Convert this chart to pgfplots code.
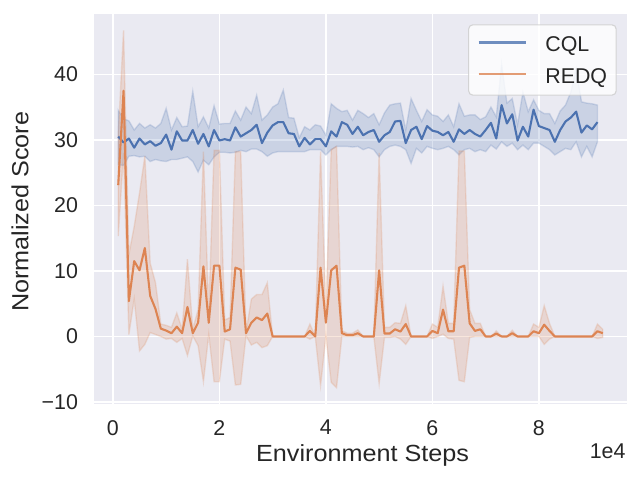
\documentclass[border=0pt]{standalone}
\usepackage{fontspec}
\setmainfont{Liberation Sans}
\usepackage{graphicx}
\usepackage{pgfplots}
\usepgfplotslibrary{fillbetween}
\pgfplotsset{compat=1.18}
\usepackage{pgfplotstable}
\definecolor{cqlc}{HTML}{4C72B0}
\definecolor{redqc}{HTML}{DD8452}
\definecolor{bgc}{HTML}{EAEAF2}
\definecolor{txt}{HTML}{262626}
\definecolor{legc}{HTML}{CCCCCC}

\pgfplotstableread{
x m l u
1000 30.5 26.2 34.5
2000 29.6 26.1 33.2
3000 30.2 27.5 32.9
4000 28.8 27.6 31.5
5000 30.2 27.4 32.5
6000 29.3 27.5 31.8
7000 29.8 26.7 32.3
8000 29.1 27.0 31.8
9000 29.5 26.8 32.5
10000 30.8 26.7 34.8
11000 28.5 27.0 31.5
12000 31.3 27.0 33.4
13000 29.9 27.2 32.0
14000 29.9 27.4 32.1
15000 31.5 26.7 37.4
16000 29.4 25.1 32.0
17000 30.9 26.9 33.5
18000 29.0 26.2 31.8
19000 31.5 27.4 35.2
20000 29.9 28.1 32.4
21000 30.1 28.1 32.5
22000 29.9 28.0 32.5
23000 31.9 28.1 34.4
24000 30.5 28.4 33.0
25000 31.0 28.2 35.0
26000 31.5 28.6 34.0
27000 32.3 28.6 36.8
28000 29.5 28.2 33.0
29000 31.1 27.5 33.8
30000 32.2 28.0 35.0
31000 32.7 28.2 35.5
32000 32.7 28.2 37.6
33000 31.0 28.2 33.4
34000 30.9 28.2 33.3
35000 29.0 28.2 30.3
36000 30.3 28.2 32.0
37000 29.3 28.5 31.5
38000 30.1 28.5 32.3
39000 30.1 28.5 32.1
40000 29.0 27.7 30.7
41000 31.3 28.5 35.5
42000 30.5 29.0 34.8
43000 32.7 29.0 34.3
44000 32.3 29.0 34.5
45000 30.9 28.9 33.0
46000 32.0 29.0 34.5
47000 30.7 28.5 34.0
48000 31.2 28.8 33.4
49000 31.5 28.5 34.0
50000 29.7 27.4 32.3
51000 30.7 28.5 34.1
52000 31.2 29.0 35.3
53000 32.8 29.2 35.5
54000 32.9 29.0 35.6
55000 29.5 28.5 31.5
56000 31.5 26.4 36.3
57000 32.0 28.7 34.5
58000 30.1 28.0 32.8
59000 32.1 29.0 34.6
60000 31.4 28.7 33.8
61000 31.2 28.5 33.6
62000 30.7 28.7 32.8
63000 31.2 29.0 33.8
64000 29.7 28.5 32.0
65000 31.6 27.7 35.5
66000 30.9 28.5 33.6
67000 31.5 28.7 33.8
68000 30.9 28.2 33.8
69000 30.5 28.5 33.1
70000 31.5 28.2 33.5
71000 32.6 29.2 35.0
72000 30.2 28.6 33.5
73000 35.3 29.7 41.6
74000 32.5 29.0 35.6
75000 33.9 29.5 36.3
76000 29.9 28.5 32.3
77000 32.0 29.2 37.3
78000 30.5 28.5 34.3
79000 34.6 29.5 36.1
80000 32.1 29.5 34.5
81000 31.8 29.0 34.0
82000 31.5 28.5 34.0
83000 29.7 27.7 32.5
84000 31.5 28.2 34.4
85000 32.8 28.7 35.3
86000 33.4 28.5 37.3
87000 34.3 29.7 40.9
88000 31.1 27.4 35.8
89000 32.2 29.0 35.6
90000 31.6 27.4 35.5
91000 32.7 29.7 35.3
}\cql

\pgfplotstableread{
x m l u
1000 23.1 15.3 30.7
2000 37.5 28.0 46.7
3000 5.4 0.3 12.5
4000 11.5 5.7 16.8
5000 10.1 -2.2 21.9
6000 13.5 -1.2 27.5
7000 6.2 0.6 11.2
8000 4.2 0.3 8.2
9000 1.2 0.0 1.9
10000 0.9 -0.4 1.7
11000 0.5 -0.3 1.4
12000 1.5 -0.9 3.6
13000 0.5 -0.3 1.1
14000 4.5 -2.9 11.8
15000 0.5 0.1 1.1
16000 2.1 -1.4 4.1
17000 10.7 -6.9 28.2
18000 2.1 0.3 3.6
19000 10.8 -6.9 28.4
20000 10.8 -6.9 28.4
21000 0.75 -0.4 2.5
22000 1.1 -0.7 2.9
23000 10.5 -7.4 28.2
24000 10.2 -7.3 28.2
25000 0.5 0.1 0.6
26000 2.1 -1.3 5.7
27000 2.9 -0.9 6.4
28000 2.5 -1.7 6.4
29000 3.5 -1.4 8.2
30000 0 0 0
31000 0 0 0
32000 0 0 0
33000 0 0 0
34000 0 0 0
35000 0 0 0
36000 0 0 0
37000 0.85 -0.4 1.9
38000 0 0 0
39000 10.5 -7.5 28.2
40000 2.1 0 4.5
41000 10.1 -7.0 28.5
42000 10.8 -7.8 29.0
43000 0.5 0 0.9
44000 0.2 0 0.5
45000 0.2 0 0.5
46000 0.5 0 1.0
47000 0 0 0
48000 0 0 0
49000 0 0 0
50000 10.1 -7.2 28.0
51000 0.45 -0.15 1.4
52000 0.45 -0.15 1.4
53000 1.1 0 2.1
54000 0.75 -0.4 2.0
55000 1.9 -1.2 4.7
56000 0 0 0
57000 0 0 0
58000 0 0 0
59000 0 0 0
60000 0.85 -0.3 1.9
61000 0.5 0 1.4
62000 4.1 0.35 7.7
63000 0.8 -0.3 2.0
64000 0.8 -0.4 2.0
65000 10.5 -6.7 28.3
66000 10.8 -6.9 28.3
67000 2.0 -0.15 4.1
68000 0.85 0 2.0
69000 1.1 0 2.0
70000 0 0 0
71000 0 0 0
72000 0.45 0 0.85
73000 0 0 0
74000 0 0 0
75000 0.5 0 0.95
76000 0 0 0
77000 0 0 0
78000 0 0 0
79000 0.8 0 1.9
80000 0.5 0 1.4
81000 1.8 -1.2 4.7
82000 0.85 -0.4 2.0
83000 0 0 0
84000 0 0 0
85000 0 0 0
86000 0 0 0
87000 0 0 0
88000 0 0 0
89000 0 0 0
90000 0 0 0
91000 0.8 -0.3 1.9
92000 0.5 -0.15 1.1
}\redq

\begin{document}
\begin{tikzpicture}
\begin{axis}[
  at={(67.68bp,54.72bp)}, anchor=south west,
  scale only axis, width=383.76bp, height=280.8bp,
  xmin=-3550, xmax=96550, ymin=-10.3, ymax=49.2,
  clip mode=individual,
  axis background/.style={fill=bgc},
  axis line style={draw=none},
  major tick length=0pt,
  grid=major, grid style={white, line width=1bp},
  xtick={0,20000,40000,60000,80000}, xticklabels={0,2,4,6,8},
  scaled x ticks=false,
  ytick={-10,0,10,20,30,40}, yticklabels={−10,0,10,20,30,40},
  tick label style={font=\fontsize{15.4bp}{18bp}\selectfont, text=txt, inner sep=0pt},
  xticklabel style={anchor=north, yshift=-11.5bp},
  yticklabel style={anchor=east, xshift=-11.3bp},
  xlabel={\scalebox{1.08}[1]{Environment Steps}},
  xlabel style={at={(axis description cs:0.504,-0.1479)}, anchor=base, inner sep=0pt,
    font=\fontsize{16.8bp}{20bp}\selectfont, text=txt},
  ylabel={\scalebox{1.08}[1]{Normalized Score}},
  ylabel style={at={(axis description cs:-0.1233,0.493)}, anchor=base, inner sep=0pt,
    font=\fontsize{16.8bp}{20bp}\selectfont, text=txt},
  legend image code/.code={\draw[#1, line width=1.5bp] (0bp,6.7bp) -- (34bp,6.7bp);},
  legend style={at={(axis description cs:0.9807,0.9736)}, anchor=north east,
    draw=legc, fill=white, fill opacity=0.8, draw opacity=0.8, text opacity=1,
    rounded corners=3bp, line width=0.8bp,
    inner xsep=6.5bp, inner ysep=8.4bp,
    font=\fontsize{15.4bp}{18bp}\selectfont, text=txt,
    row sep=11.8bp,
    nodes={inner sep=0pt, anchor=base west, text height=11bp, text depth=0pt},
    /tikz/every odd column/.append style={column sep=13.2bp}},
]
\addplot[cqlc, line width=1.5bp, line join=round] table[x=x,y=m]{\cql};
\addlegendentry{CQL}
\addplot[name path=cu, draw=none, forget plot] table[x=x,y=u]{\cql};
\addplot[name path=cl, draw=none, forget plot] table[x=x,y=l]{\cql};
\addplot[fill=cqlc, fill opacity=0.2, draw=cqlc, draw opacity=0.2, line width=1bp, forget plot] fill between[of=cu and cl];
\addplot[redqc, line width=1.5bp, line join=round] table[x=x,y=m]{\redq};
\addlegendentry{REDQ}
\addplot[name path=ru, draw=none, forget plot] table[x=x,y=u]{\redq};
\addplot[name path=rl, draw=none, forget plot] table[x=x,y=l]{\redq};
\addplot[fill=redqc, fill opacity=0.2, draw=redqc, draw opacity=0.2, line width=1bp, forget plot] fill between[of=ru and rl];
\node[anchor=north east, inner sep=0pt, font=\fontsize{15.4bp}{18bp}\selectfont, text=txt]
  at (axis description cs:0.9976,-0.1008) {1e4};
\end{axis}
\pgfresetboundingbox
\path[use as bounding box] (0,0) rectangle (460.8bp,345.6bp);
\end{tikzpicture}
\end{document}
